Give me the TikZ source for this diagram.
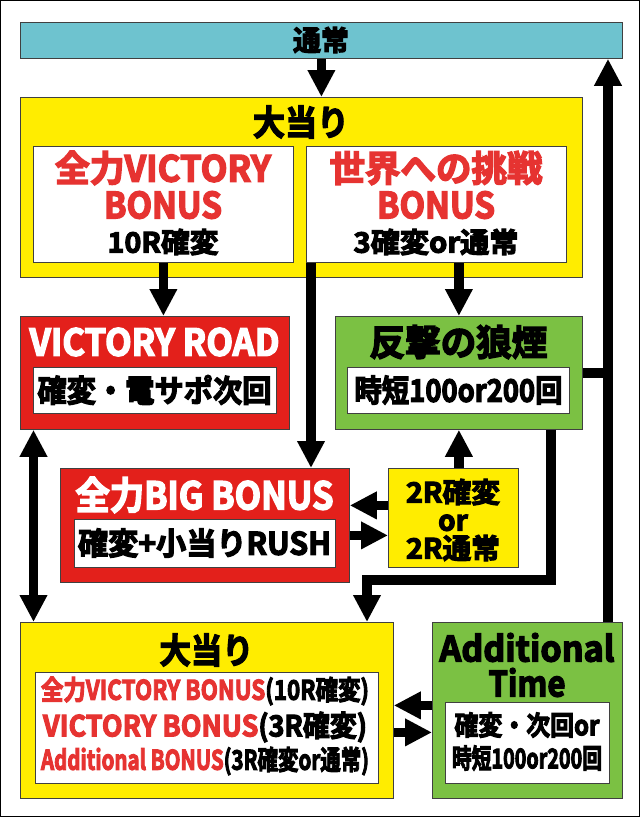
\documentclass[tikz,border=0pt]{standalone}
\usepackage{fontspec}
\setmainfont{Noto Sans CJK JP Bold}[FakeBold=4]
\usepackage{graphicx}
\usetikzlibrary{arrows.meta}
\definecolor{cy1a}{HTML}{6EC3CF}
\definecolor{ye1a}{HTML}{FFED00}
\definecolor{rd1a}{HTML}{E3201B}
\definecolor{rd2a}{HTML}{E63331}
\definecolor{gr1a}{HTML}{7BC143}
\newcommand{\fitw}[2]{\resizebox{#1}{\height}{#2}}

\begin{document}
\begin{tikzpicture}[x=1pt, y=-1pt, >={Triangle[length=27pt, width=26pt]},
    box/.style={draw=black!75, line width=0.8pt, inner sep=0pt, anchor=north west},
    conn/.style={line width=9.5pt},
    lbl/.style={inner sep=0pt, font=\fontsize{#1}{#1}\selectfont}]
    \useasboundingbox (0,0) rectangle (640,817);
    \draw[black, line width=1pt] (0.5,0.5) rectangle (639.5,816.5);

    % top row
    \node[box, fill=cy1a, minimum width=602pt, minimum height=36pt] (tsujo) at (20,22) {};
    \node[lbl=28] (tsujoT) at (321,40) {通常};

    \node[box, fill=ye1a, minimum width=562pt, minimum height=180pt] (hit1) at (20,97) {};
    \node[lbl=35] (hit1T) at (301,122) {\fitw{96pt}{大当り}};
    \node[box, fill=white, minimum width=260pt, minimum height=116pt] (vbonus) at (33,146) {};
    \node[lbl=36, text=rd2a] (vbonusA) at (163,168) {\fitw{216pt}{全力VICTORY}};
    \node[lbl=36, text=rd2a] (vbonusB) at (163,205) {\fitw{118pt}{BONUS}};
    \node[lbl=28] (vbonusC) at (163,242) {\fitw{111pt}{10R確変}};
    \node[box, fill=white, minimum width=260pt, minimum height=116pt] (sekai) at (306,146) {};
    \node[lbl=36, text=rd2a] (sekaiA) at (436,168) {\fitw{213pt}{世界への挑戦}};
    \node[lbl=36, text=rd2a] (sekaiB) at (436,205) {\fitw{118pt}{BONUS}};
    \node[lbl=28] (sekaiC) at (436,242) {\fitw{165pt}{3確変or通常}};

    % middle
    \node[box, fill=rd1a, minimum width=269pt, minimum height=113pt] (vroad) at (20,316) {};
    \node[lbl=37, text=white] (vroadA) at (154.5,342) {\fitw{250pt}{VICTORY ROAD}};
    \node[box, fill=white, minimum width=243pt, minimum height=46pt] (vroadin) at (33,367) {};
    \node[lbl=31] (vroadB) at (154.5,390) {\fitw{234pt}{確変・電サポ次回}};

    \node[box, fill=gr1a, minimum width=247pt, minimum height=113pt] (noroshi) at (335,316) {};
    \node[lbl=36] (noroshiA) at (458.5,342) {\fitw{178pt}{反撃の狼煙}};
    \node[box, fill=white, minimum width=222pt, minimum height=46pt] (noroshiin) at (347,367) {};
    \node[lbl=31] (noroshiB) at (458.5,390) {\fitw{208pt}{時短100or200回}};

    \node[box, fill=rd1a, minimum width=289pt, minimum height=114pt] (big) at (60,468) {};
    \node[lbl=38, text=white] (bigA) at (204.5,495) {\fitw{258pt}{全力BIG BONUS}};
    \node[box, fill=white, minimum width=261pt, minimum height=48pt] (bigin) at (74,519) {};
    \node[lbl=31] (bigB) at (204.5,543) {\fitw{253pt}{確変+小当りRUSH}};

    \node[box, fill=ye1a, minimum width=130pt, minimum height=99pt] (tworound) at (388,468) {};
    \node[lbl=28, align=center] (tworoundT) at (453,520) {\fitw{94pt}{2R確変}\\or\\\fitw{94pt}{2R通常}};

    % bottom row
    \node[box, fill=ye1a, minimum width=373pt, minimum height=176pt] (hit2) at (20,622) {};
    \node[lbl=35] (hit2T) at (206.5,650) {\fitw{94pt}{大当り}};
    \node[box, fill=white, minimum width=343pt, minimum height=111pt] (hit2in) at (35,672) {};
    \node[lbl=27] (hit2A) at (205,691) {\fitw{328pt}{\textcolor{rd2a}{全力VICTORY BONUS}(10R確変)}};
    \node[lbl=29] (hit2B) at (205,727) {\fitw{324pt}{\textcolor{rd2a}{VICTORY BONUS}(3R確変)}};
    \node[lbl=27] (hit2C) at (205,761) {\fitw{328pt}{\textcolor{rd2a}{Additional BONUS}(3R確変or通常)}};

    \node[box, fill=gr1a, minimum width=190pt, minimum height=176pt] (addt) at (432,622) {};
    \node[lbl=35, align=center] (addtA) at (527,665) {\fitw{175pt}{Additional}\\\fitw{77pt}{Time}};
    \node[box, fill=white, minimum width=164pt, minimum height=81pt] (addtin) at (445,702) {};
    \node[lbl=27] (addtC) at (527,725) {\fitw{145pt}{確変・次回or}};
    \node[lbl=27] (addtD) at (527,758) {\fitw{150pt}{時短100or200回}};

    % connectors
    \coordinate (up) at (608,400);
    \coordinate (d1) at (551,580);
    \coordinate (d2) at (367,580);
    \draw[conn, ->] (tsujo.south) -- (tsujo.south |- hit1.north);
    \draw[conn, ->] (vbonus.south) -- (vbonus.south |- vroad.north);
    \draw[conn, ->] ([xshift=5pt]sekai.south west) -- ([xshift=5pt]sekai.south west |- big.north);
    \draw[conn, ->] (noroshi.north |- sekai.south) -- (noroshi.north);
    \draw[conn] (noroshi.east) -- (noroshi.east -| up);
    \draw[conn, ->] (addt.north -| up) -- (tsujo.south -| up);
    \draw[conn, ->] (noroshi.south -| d1) |- (d2) -- (d2 |- hit2.north);
    \draw[conn, ->] (tworound.north -| noroshi.south) -- (noroshi.south);
    \draw[conn, ->] ([yshift=12.5pt]tworound.west) -- ([yshift=12.5pt]tworound.west -| big.east);
    \draw[conn, ->] ([yshift=-17.5pt]tworound.west -| big.east) -- ([yshift=-17.5pt]tworound.west);
    \draw[conn, <->] ([xshift=13.5pt]vroad.south west) -- ([xshift=13.5pt]vroad.south west |- hit2.north);
    \draw[conn, ->] ([yshift=5pt]addt.west) -- ([yshift=5pt]addt.west -| hit2.east);
    \draw[conn, ->] ([yshift=-22pt]addt.west -| hit2.east) -- ([yshift=-22pt]addt.west);
\end{tikzpicture}
\end{document}
